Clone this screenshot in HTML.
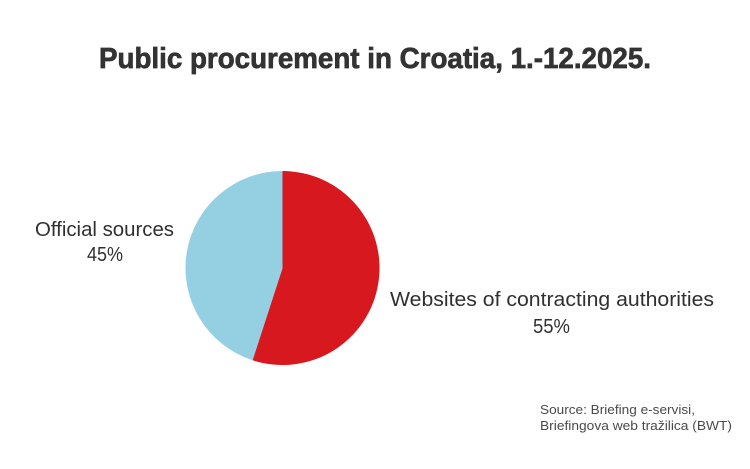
<!DOCTYPE html>
<html>
<head>
<meta charset="utf-8">
<style>
  html,body{margin:0;padding:0;background:#fff;}
  svg{display:block;}
</style>
</head>
<body>
<svg width="750" height="469" viewBox="0 0 750 469" xmlns="http://www.w3.org/2000/svg">
  <rect width="750" height="469" fill="#ffffff"/>
  <text x="99" y="68" font-family="Liberation Sans, sans-serif" font-weight="bold" font-size="28.5" fill="#333333" stroke="#333333" stroke-width="0.7" textLength="552" lengthAdjust="spacingAndGlyphs">Public procurement in Croatia, 1.-12.2025.</text>

  <path d="M282.5,268 L282.5,171 A97,97 0 1,1 252.53,360.25 Z" fill="#d7191f"/>
  <path d="M282.5,268 L252.53,360.25 A97,97 0 0,1 282.5,171 Z" fill="#94cfe2"/>

  <g font-family="Liberation Sans, sans-serif" font-size="20" fill="#303030">
    <text x="35" y="236" textLength="139" lengthAdjust="spacingAndGlyphs">Official sources</text>
    <text x="87" y="261" textLength="36" lengthAdjust="spacingAndGlyphs">45%</text>
    <text x="390" y="306" textLength="324" lengthAdjust="spacingAndGlyphs">Websites of contracting authorities</text>
    <text x="533" y="333" textLength="37" lengthAdjust="spacingAndGlyphs">55%</text>
  </g>

  <g font-family="Liberation Sans, sans-serif" font-size="13" fill="#4a4a4a">
    <text x="540" y="414" textLength="155" lengthAdjust="spacingAndGlyphs">Source: Briefing e-servisi,</text>
    <text x="540" y="430" textLength="192" lengthAdjust="spacingAndGlyphs">Briefingova web tražilica (BWT)</text>
  </g>
</svg>
</body>
</html>
